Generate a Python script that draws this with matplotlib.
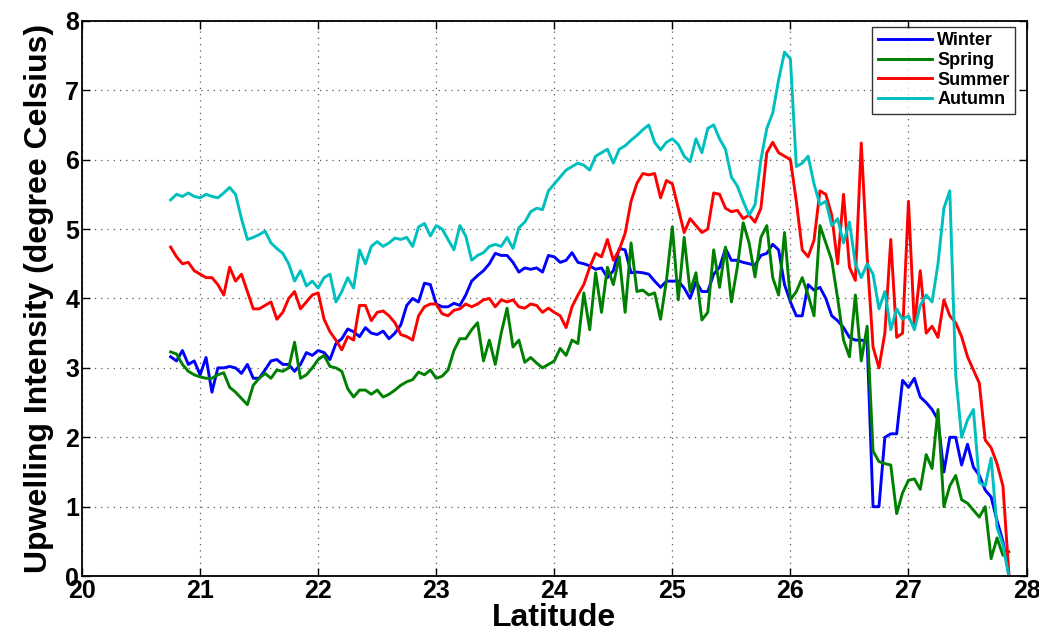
import matplotlib
matplotlib.use('Agg')
import matplotlib.pyplot as plt
import numpy as np

plt.rcParams['font.family'] = ['Liberation Sans', 'DejaVu Sans']
plt.rcParams['font.weight'] = 'bold'

# latitude sampling (every 0.05 deg, 20.75 .. 27.85)
lat = np.round(np.arange(20.75, 27.851, 0.05), 2)

winter = [
    3.16, 3.10, 3.25, 3.05, 3.10,
    2.90, 3.15, 2.65, 3.00, 3.00, 3.02, 3.00, 2.92, 3.05, 2.85,
    2.85, 2.97, 3.10, 3.12, 3.05, 3.05, 2.95, 3.05, 3.22, 3.18,
    3.25, 3.22, 3.12, 3.35, 3.42, 3.56, 3.52, 3.45, 3.58, 3.50,
    3.48, 3.53, 3.42, 3.50, 3.62, 3.90, 4.00, 3.95, 4.22, 4.20,
    3.92, 3.88, 3.88, 3.93, 3.90, 4.05, 4.25, 4.33, 4.40, 4.50,
    4.65, 4.62, 4.62, 4.52, 4.38, 4.44, 4.42, 4.44, 4.38, 4.62,
    4.60, 4.52, 4.55, 4.66, 4.52, 4.50, 4.47, 4.42, 4.44, 4.30,
    4.40, 4.72, 4.70, 4.37, 4.38, 4.37, 4.35, 4.25, 4.16, 4.25,
    4.25, 4.25, 4.15, 4.00, 4.24, 4.10, 4.10, 4.35, 4.45, 4.72,
    4.55, 4.55, 4.52, 4.50, 4.48, 4.62, 4.65, 4.78, 4.70, 4.20,
    3.95, 3.75, 3.75, 4.20, 4.12, 4.16, 4.00, 3.75, 3.68, 3.58,
    3.44, 3.40, 3.40, 3.38, 1.00, 1.00, 2.00, 2.05, 2.05, 2.82,
    2.72, 2.85, 2.58, 2.50, 2.40, 2.25, 1.50, 2.00, 2.00, 1.60,
    1.90, 1.57, 1.45, 1.24, 1.14, 0.80, 0.50, 0.02,
]

spring = [
    3.23, 3.20, 3.05, 2.95, 2.90,
    2.87, 2.85, 2.85, 2.90, 2.93, 2.72, 2.65, 2.56, 2.47, 2.75,
    2.85, 2.92, 2.85, 2.97, 2.95, 3.00, 3.37, 2.85, 2.90, 3.00,
    3.12, 3.18, 3.02, 3.00, 2.95, 2.70, 2.58, 2.68, 2.68, 2.62,
    2.68, 2.58, 2.62, 2.68, 2.75, 2.80, 2.83, 2.94, 2.90, 2.97,
    2.85, 2.88, 2.97, 3.25, 3.42, 3.42, 3.55, 3.65, 3.10, 3.40,
    3.05, 3.50, 3.86, 3.30, 3.40, 3.08, 3.15, 3.07, 3.00, 3.05,
    3.10, 3.28, 3.18, 3.40, 3.35, 4.08, 3.55, 4.37, 3.80, 4.45,
    4.20, 4.60, 3.80, 4.80, 4.10, 4.12, 4.05, 4.08, 3.70, 4.26,
    5.03, 3.98, 4.88, 4.10, 4.37, 3.69, 3.80, 4.70, 4.16, 4.74,
    3.95, 4.45, 5.09, 4.80, 4.31, 4.88, 5.05, 4.30, 4.05, 4.95,
    3.98, 4.10, 4.30, 4.05, 3.75, 5.05, 4.80, 4.55, 4.00, 3.40,
    3.16, 4.05, 3.10, 3.60, 1.80, 1.65, 1.62, 1.60, 0.90, 1.20,
    1.38, 1.40, 1.25, 1.75, 1.55, 2.40, 1.00, 1.30, 1.45, 1.10,
    1.05, 0.95, 0.85, 1.00, 0.25, 0.55, 0.30, 0.35,
]

summer = [
    4.74, 4.60, 4.50, 4.52, 4.40,
    4.35, 4.30, 4.30, 4.20, 4.05, 4.45, 4.25, 4.35, 4.10, 3.85,
    3.85, 3.90, 3.95, 3.70, 3.80, 4.00, 4.10, 3.85, 3.95, 4.05,
    4.08, 3.70, 3.52, 3.40, 3.26, 3.45, 3.40, 3.90, 3.90, 3.68,
    3.80, 3.82, 3.75, 3.65, 3.48, 3.45, 3.40, 3.75, 3.88, 3.92,
    3.92, 3.78, 3.75, 3.83, 3.85, 3.92, 3.88, 3.92, 3.98, 4.00,
    3.88, 3.98, 3.95, 3.98, 3.88, 3.86, 3.92, 3.90, 3.80, 3.86,
    3.80, 3.75, 3.58, 3.88, 4.05, 4.20, 4.45, 4.65, 4.60, 4.85,
    4.55, 4.70, 4.94, 5.40, 5.66, 5.80, 5.78, 5.80, 5.45, 5.70,
    5.65, 5.30, 4.95, 5.15, 5.05, 4.95, 5.00, 5.52, 5.50, 5.30,
    5.25, 5.27, 5.15, 5.20, 5.10, 5.30, 6.10, 6.25, 6.10, 6.05,
    6.00, 5.40, 4.70, 4.60, 4.84, 5.55, 5.50, 5.20, 4.50, 5.50,
    4.45, 4.26, 6.24, 4.60, 3.30, 3.00, 3.50, 4.85, 3.44, 3.50,
    5.40, 3.60, 4.40, 3.50, 3.60, 3.44, 3.98, 3.75, 3.65, 3.45,
    3.16, 2.97, 2.78, 1.96, 1.85, 1.62, 1.30, 0.05,
]

autumn = [
    5.42, 5.50, 5.47, 5.52, 5.47,
    5.45, 5.50, 5.47, 5.45, 5.52, 5.60, 5.50, 5.15, 4.85, 4.88,
    4.92, 4.97, 4.80, 4.72, 4.65, 4.50, 4.25, 4.40, 4.18, 4.25,
    4.15, 4.30, 4.35, 3.95, 4.10, 4.30, 4.15, 4.70, 4.50, 4.75,
    4.82, 4.75, 4.80, 4.87, 4.85, 4.88, 4.75, 5.03, 5.08, 4.90,
    5.05, 5.00, 4.85, 4.70, 5.05, 4.90, 4.55, 4.62, 4.66, 4.75,
    4.78, 4.75, 4.88, 4.72, 5.02, 5.10, 5.25, 5.30, 5.28, 5.55,
    5.65, 5.75, 5.85, 5.90, 5.95, 5.92, 5.85, 6.05, 6.10, 6.15,
    5.95, 6.15, 6.20, 6.28, 6.35, 6.43, 6.50, 6.25, 6.14, 6.25,
    6.30, 6.22, 6.05, 5.97, 6.30, 6.10, 6.45, 6.50, 6.30, 6.15,
    5.75, 5.62, 5.40, 5.20, 5.35, 6.00, 6.45, 6.67, 7.15, 7.55,
    7.45, 5.90, 5.95, 6.05, 5.65, 5.35, 5.40, 5.05, 5.15, 4.80,
    5.10, 4.50, 4.30, 4.50, 4.35, 3.85, 4.10, 3.55, 3.85, 3.70,
    3.75, 3.55, 3.90, 4.05, 3.95, 4.50, 5.30, 5.55, 2.90, 2.00,
    2.25, 2.40, 1.35, 1.30, 1.70, 0.70, 0.45, 0.00,
]

series = [('Winter', winter, (0, 0, 1)),
          ('Spring', spring, (0, 0.5, 0)),
          ('Summer', summer, (1, 0, 0)),
          ('Autumn', autumn, (0, 0.75, 0.75))]

fig = plt.figure(figsize=(10.39, 6.31), dpi=100)
ax = fig.add_axes([0.079, 0.087, 0.909, 0.88])

for name, vals, col in series:
    ax.plot(lat, vals, color=col, lw=2.1, label=name)

ax.set_xlim(20, 28)
ax.set_ylim(0, 8)
ax.set_xticks(range(20, 29))
ax.set_yticks(range(0, 9))
ax.grid(True, linestyle=(0, (1, 4)), color='0.35', lw=0.9)
ax.tick_params(direction='in', length=6, width=1, top=True, right=True,
               labelsize=18, pad=2)
for lab in ax.get_xticklabels() + ax.get_yticklabels():
    lab.set_fontweight('bold')
for sp in ax.spines.values():
    sp.set_linewidth(1.3)

ax.set_xlabel('Latitude', fontsize=23, fontweight='bold', labelpad=0)
ax.set_ylabel('Upwelling Intensity (degree Celsius)', fontsize=23,
              fontweight='bold', labelpad=8)

leg = ax.legend(loc='upper right', bbox_to_anchor=(0.988, 0.989),
                borderaxespad=0, fancybox=False, edgecolor='black',
                prop={'size': 13, 'weight': 'bold'}, handlelength=3.0,
                labelspacing=0.15, handletextpad=0.3, borderpad=0.3)
leg.get_frame().set_linewidth(1.0)

fig.savefig('out.png', dpi=100)
